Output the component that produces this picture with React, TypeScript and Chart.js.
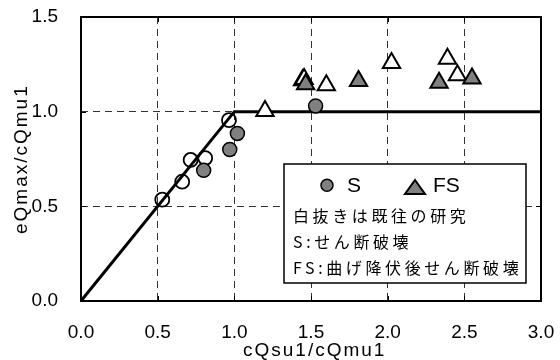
import { useEffect, useRef } from "react";
import { Chart, registerables } from "chart.js";

Chart.register(...registerables);

// ---- data ----
const X_TICKS = [0, 0.5, 1.0, 1.5, 2.0, 2.5, 3.0];
const Y_TICKS = [0, 0.5, 1.0, 1.5];

// S (shear failure) – this study (filled)
const sFilledX = [0.8, 0.97, 1.02, 1.53];
const sFilledY = [0.69, 0.8, 0.885, 1.03];
// S – previous studies (open)
const sOpenX = [0.53, 0.66, 0.715, 0.81, 0.965];
const sOpenY = [0.535, 0.63, 0.745, 0.755, 0.955];
// FS (shear after flexural yield) – this study (filled)
const fsFilledX = [1.465, 1.81, 2.335, 2.55];
const fsFilledY = [1.145, 1.162, 1.153, 1.175];
// FS – previous studies (open)
const fsOpenX = [1.2, 1.445, 1.455, 1.6, 2.025, 2.39, 2.455];
const fsOpenY = [1.003, 1.166, 1.172, 1.139, 1.257, 1.28, 1.192];
// calculated capacity line
const capX = [0, 1.0, 3.0];
const capY = [0, 1.0, 1.0];

const SERIES_NAMES = ["S", "FS"];
const LEGEND_LINES = ["白抜きは既往の研究", "S:せん断破壊", "FS:曲げ降伏後せん断破壊"];
const X_TITLE = "cQsu1/cQmu1";
const Y_TITLE = "eQmax/cQmu1";

const pts = (xs: number[], ys: number[]) => xs.map((x, i) => ({ x, y: ys[i] }));

const LATIN = "Arial, 'Liberation Sans', sans-serif";
const CJK = "'Noto Sans CJK JP', sans-serif";
const GRAY = "#808080";

const framePlugin = {
  id: "frameTicks",
  beforeDatasetsDraw(chart: any) {
    const { ctx, chartArea: a, scales } = chart;
    ctx.save();
    ctx.strokeStyle = "#000";
    ctx.lineWidth = 1;
    ctx.setLineDash([]);
    const L = 5;
    ctx.beginPath();
    X_TICKS.forEach((v) => {
      const px = Math.round(scales.x.getPixelForValue(v)) + 0.5;
      ctx.moveTo(px, a.bottom);
      ctx.lineTo(px, a.bottom - L);
      ctx.moveTo(px, a.top);
      ctx.lineTo(px, a.top + L);
    });
    Y_TICKS.forEach((v) => {
      const py = Math.round(scales.y.getPixelForValue(v)) + 0.5;
      ctx.moveTo(a.left, py);
      ctx.lineTo(a.left + L, py);
      ctx.moveTo(a.right, py);
      ctx.lineTo(a.right - L, py);
    });
    ctx.stroke();
    ctx.lineWidth = 2;
    ctx.strokeRect(a.left, a.top, a.right - a.left, a.bottom - a.top);
    ctx.restore();
  },
  afterDraw(chart: any) {
    const { ctx } = chart;
    ctx.save();
    ctx.fillStyle = "#000";
    // axis titles
    ctx.font = `19px ${LATIN}`;
    (ctx as any).letterSpacing = "2px";
    ctx.textAlign = "left";
    ctx.textBaseline = "alphabetic";
    ctx.fillText(X_TITLE, 243, 356);
    ctx.save();
    ctx.translate(27, 234);
    ctx.rotate(-Math.PI / 2);
    ctx.fillText(Y_TITLE, 0, 0);
    ctx.restore();

    // legend box
    const bx = 284, by = 164, bw = 242, bh = 119;
    (ctx as any).letterSpacing = "0px";
    ctx.fillStyle = "#fff";
    ctx.fillRect(bx, by, bw, bh);
    ctx.strokeStyle = "#000";
    ctx.lineWidth = 1.5;
    ctx.strokeRect(bx, by, bw, bh);

    // S marker
    ctx.beginPath();
    ctx.arc(327, 185.3, 6, 0, Math.PI * 2);
    ctx.fillStyle = GRAY;
    ctx.fill();
    ctx.lineWidth = 1.5;
    ctx.stroke();
    // FS marker
    ctx.beginPath();
    ctx.moveTo(415, 180);
    ctx.lineTo(425, 194);
    ctx.lineTo(405, 194);
    ctx.closePath();
    ctx.fillStyle = GRAY;
    ctx.fill();
    ctx.lineWidth = 2;
    ctx.stroke();

    ctx.fillStyle = "#000";
    ctx.font = `21px ${LATIN}`;
    ctx.textBaseline = "alphabetic";
    ctx.fillText(SERIES_NAMES[0], 347, 192);
    ctx.fillText(SERIES_NAMES[1], 433, 192);

    ctx.font = `16px ${CJK}`;
    (ctx as any).letterSpacing = "3.6px";
    ctx.textBaseline = "middle";
    const ys = [215.5, 241.7, 268.3];
    LEGEND_LINES.forEach((t, i) => ctx.fillText(t, 293, ys[i]));
    ctx.restore();
  },
};

export default function App() {
  const ref = useRef<HTMLCanvasElement | null>(null);
  useEffect(() => {
    if (!ref.current) return;
    const marker = {
      showLine: false,
      pointBorderColor: "#000",
    };
    const chart = new Chart(ref.current, {
      type: "scatter",
      data: {
        datasets: [
          {
            ...marker,
            label: "S (filled)",
            data: pts(sFilledX, sFilledY),
            pointStyle: "circle",
            pointRadius: 7,
            pointBackgroundColor: GRAY,
            pointBorderWidth: 1.5,
          },
          {
            ...marker,
            label: "FS (filled)",
            data: pts(fsFilledX, fsFilledY),
            pointStyle: "triangle",
            pointRadius: 10,
            pointBackgroundColor: GRAY,
            pointBorderWidth: 2,
          },
          {
            ...marker,
            label: "FS (open)",
            data: pts(fsOpenX, fsOpenY),
            pointStyle: "triangle",
            pointRadius: 10,
            pointBackgroundColor: "#fff",
            pointBorderWidth: 2,
          },
          {
            ...marker,
            label: "S (open)",
            data: pts(sOpenX, sOpenY),
            pointStyle: "circle",
            pointRadius: 7,
            pointBackgroundColor: "rgba(0,0,0,0)",
            pointBorderWidth: 1.8,
          },
          {
            label: "capacity",
            data: pts(capX, capY),
            showLine: true,
            borderColor: "#000",
            borderWidth: 3,
            pointRadius: 0,
            fill: false,
          },
        ],
      },
      options: {
        animation: false,
        responsive: true,
        maintainAspectRatio: false,
        layout: { padding: { left: 0, top: 17, right: 19, bottom: 0 } },
        plugins: { legend: { display: false }, tooltip: { enabled: false } },
        scales: {
          x: {
            type: "linear",
            min: 0,
            max: 3,
            afterFit: (s: any) => {
              s.height = 59;
              s.paddingLeft = 0;
              s.paddingRight = 0;
              s.paddingTop = 0;
              s.paddingBottom = 0;
            },
            afterBuildTicks: (s: any) => {
              s.ticks = X_TICKS.map((v) => ({ value: v }));
            },
            ticks: {
              color: "#000",
              font: { family: LATIN, size: 19 },
              padding: 20,
              maxRotation: 0,
              callback: (v: any) => Number(v).toFixed(1),
            },
            grid: { color: "#333", lineWidth: 1, drawTicks: false },
            border: { display: false, dash: [7, 5] },
          },
          y: {
            type: "linear",
            min: 0,
            max: 1.5,
            afterFit: (s: any) => {
              s.width = 81;
              s.paddingLeft = 0;
              s.paddingRight = 0;
              s.paddingTop = 0;
              s.paddingBottom = 0;
            },
            afterBuildTicks: (s: any) => {
              s.ticks = Y_TICKS.map((v) => ({ value: v }));
            },
            ticks: {
              color: "#000",
              font: { family: LATIN, size: 19 },
              padding: 23,
              callback: (v: any) => Number(v).toFixed(1),
            },
            grid: { color: "#333", lineWidth: 1, drawTicks: false },
            border: { display: false, dash: [7, 5] },
          },
        },
      },
      plugins: [framePlugin],
    });
    return () => chart.destroy();
  }, []);
  return (
    <div style={{ position: "absolute", left: 0, top: 0, width: 560, height: 360, background: "#fff" }}>
      <canvas ref={ref} />
    </div>
  );
}
